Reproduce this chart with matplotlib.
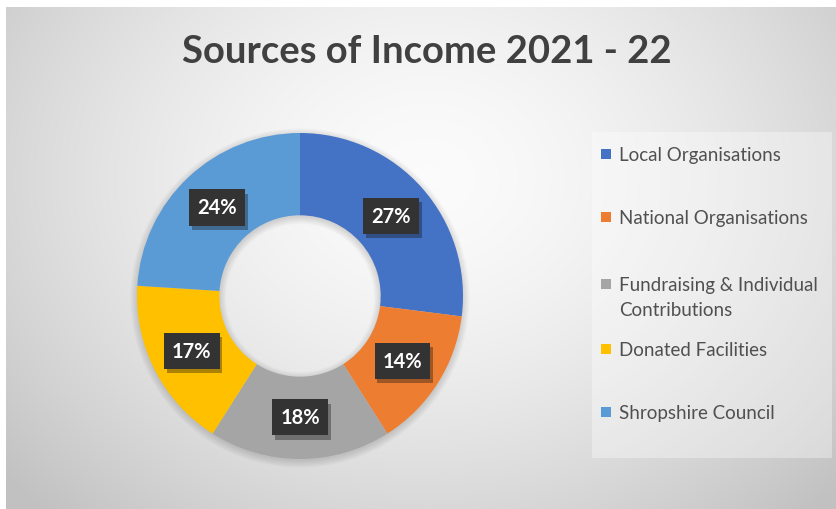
import numpy as np
import matplotlib
matplotlib.use('Agg')
import matplotlib.pyplot as plt
import matplotlib.patheffects as pe
from matplotlib.patches import Rectangle, Wedge

W, H = 837, 510
DPI = 100

categories = ['Local Organisations', 'National Organisations',
              'Fundraising & Individual\nContributions', 'Donated Facilities',
              'Shropshire Council']
values = [27, 14, 18, 17, 24]
colors = ['#4472C4', '#ED7D31', '#A5A5A5', '#FFC000', '#5B9BD5']
title = 'Sources of Income 2021 - 22'

plt.rcParams['font.family'] = ['Lato', 'DejaVu Sans']

fig = plt.figure(figsize=(W / DPI, H / DPI), dpi=DPI)
fig.patch.set_facecolor('white')


def px_rect(x0, y0, x1, y1):
    # pixel box (top-left origin) -> figure fraction
    return [x0 / W, 1 - y1 / H, (x1 - x0) / W, (y1 - y0) / H]


# background with soft radial gradient
bg = fig.add_axes(px_rect(6, 8, W, H))
bg.set_axis_off()
yy, xx = np.mgrid[0:H - 8, 0:W - 6]
d = np.sqrt(((xx - 420) / 520.0) ** 2 + ((yy - 170) / 420.0) ** 2)
shade = np.clip(0.985 - 0.2 * d ** 1.6, 0.76, 0.99)
bg.imshow(np.dstack([shade, shade, shade]), aspect='auto',
          extent=[0, 1, 0, 1], interpolation='bilinear')
bg.set_xlim(0, 1)
bg.set_ylim(0, 1)

fig.text(427 / W, 1 - 52 / H, title, ha='center', va='center',
         fontsize=27.5, fontweight='bold', color='#404040')

# donut
cx, cy, R = 300, 297, 163
half = 180
ax = fig.add_axes(px_rect(cx - half, cy - half, cx + half, cy + half))
ax.set_axis_off()
lim = half / R
ax.set_xlim(-lim, lim)
ax.set_ylim(-lim, lim)
ax.set_aspect('equal')

# soft shadow under the ring
for k in range(6):
    ax.add_patch(Wedge((0, -0.012), 1.0 + 0.008 * k, 0, 360, width=0.505 + 0.016 * k,
                       facecolor='black', alpha=0.025, edgecolor='none'))

wedges, _ = ax.pie(values, colors=colors, startangle=90, counterclock=False,
                   radius=1.0, wedgeprops=dict(width=0.505, edgecolor='none'))
ax.set_xlim(-lim, lim)
ax.set_ylim(-lim, lim)

start = 90.0
total = sum(values)
r_lab = 0.745
for v in values:
    mid = np.deg2rad(start - v / total * 360 / 2)
    start -= v / total * 360
    t = ax.text(r_lab * np.cos(mid), r_lab * np.sin(mid), f'{v}%',
                ha='center', va='center', fontsize=14.5, fontweight='bold',
                color='white',
                bbox=dict(boxstyle='square,pad=0.4', facecolor='#333333',
                          edgecolor='none'))
    t.get_bbox_patch().set_path_effects(
        [pe.SimplePatchShadow(offset=(2, -3), alpha=0.35), pe.Normal()])

# legend panel
lx0, ly0, lx1, ly1 = 592, 133, 832, 459
lg = fig.add_axes(px_rect(lx0, ly0, lx1, ly1))
lg.set_xlim(lx0, lx1)
lg.set_ylim(ly1, ly0)
lg.set_axis_off()
lg.add_patch(Rectangle((lx0, ly0), lx1 - lx0, ly1 - ly0, facecolor='white',
                       alpha=0.35, edgecolor='none'))
item_y = [155, 218, 285, 350, 413]
for name, col, y in zip(categories, colors, item_y):
    lg.add_patch(Rectangle((601, y - 5), 10, 10, facecolor=col, edgecolor='none'))
    lg.text(619, y - 8, name, ha='left', va='top', fontsize=13.5,
            color='#505050', linespacing=1.6)

fig.savefig('out.png', dpi=DPI)
